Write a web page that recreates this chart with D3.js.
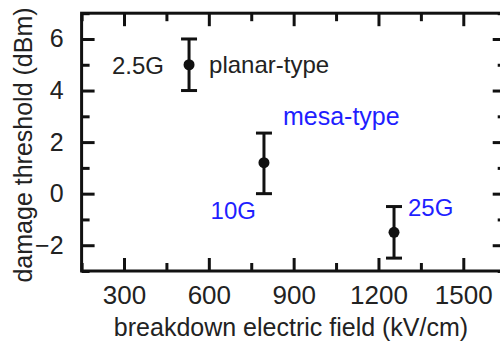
<!DOCTYPE html>
<html>
<head>
<meta charset="utf-8">
<script src="https://cdn.jsdelivr.net/npm/d3@7"></script>
<style>
  body { margin: 0; background: #fff; }
  svg { display: block; font-family: "Liberation Sans", Arial, sans-serif; }
  .tick text { fill: #222; }
</style>
</head>
<body>
<div id="chart"></div>
<script>
// data
var rates = ["2.5G", "10G", "25G"];
var breakdownField = [530, 795, 1255];      // kV/cm
var threshold = [5, 1.2, -1.5];             // dBm
var thresholdLow = [4, 0, -2.5];
var thresholdHigh = [6, 2.35, -0.5];
var xTicks = [300, 600, 900, 1200, 1500];
var yTicks = [-2, 0, 2, 4, 6];

var points = rates.map(function (r, i) {
  return { rate: r, x: breakdownField[i], y: threshold[i], lo: thresholdLow[i], hi: thresholdHigh[i] };
});

// svg setup
var svgWidth = 500, svgHeight = 348;
var svg = d3.select("#chart").append("svg")
  .attr("width", svgWidth)
  .attr("height", svgHeight);

var x = d3.scaleLinear().domain([150, 1650]).range([81.6, 505.7]);
var y = d3.scaleLinear().domain([-3, 7]).range([271, 13.2]);

var xMinor = d3.range(150, 1651, 150).filter(function (v) { return xTicks.indexOf(v) < 0; });
var yMinor = d3.range(-3, 8, 1).filter(function (v) { return yTicks.indexOf(v) < 0; });

function styleAxis(g) {
  g.select(".domain").remove();
  g.selectAll(".tick line").attr("stroke", "#111").attr("stroke-width", 3);
}

// bottom axis (ticks pointing inward)
svg.append("g")
  .attr("transform", "translate(0," + y.range()[0] + ")")
  .call(d3.axisBottom(x).tickValues(xTicks).tickSizeInner(-13).tickPadding(15).tickFormat(d3.format("d")))
  .call(styleAxis)
  .selectAll(".tick text").attr("font-size", 26);
svg.append("g")
  .attr("transform", "translate(0," + y.range()[0] + ")")
  .call(d3.axisBottom(x).tickValues(xMinor).tickSize(-8).tickFormat(""))
  .call(styleAxis);

// top axis
svg.append("g")
  .attr("transform", "translate(0," + y.range()[1] + ")")
  .call(d3.axisTop(x).tickValues(xTicks).tickSize(-13).tickFormat(""))
  .call(styleAxis);
svg.append("g")
  .attr("transform", "translate(0," + y.range()[1] + ")")
  .call(d3.axisTop(x).tickValues(xMinor).tickSize(-8).tickFormat(""))
  .call(styleAxis);

// left axis
svg.append("g")
  .attr("transform", "translate(" + x.range()[0] + ",0)")
  .call(d3.axisLeft(y).tickValues(yTicks).tickSizeInner(-13).tickPadding(18).tickFormat(d3.format("d")))
  .call(styleAxis)
  .selectAll(".tick text").attr("font-size", 25);
svg.append("g")
  .attr("transform", "translate(" + x.range()[0] + ",0)")
  .call(d3.axisLeft(y).tickValues(yMinor).tickSize(-8).tickFormat(""))
  .call(styleAxis);

// right axis
svg.append("g")
  .attr("transform", "translate(" + x.range()[1] + ",0)")
  .call(d3.axisRight(y).tickValues(yTicks).tickSize(-13).tickFormat(""))
  .call(styleAxis);
svg.append("g")
  .attr("transform", "translate(" + x.range()[1] + ",0)")
  .call(d3.axisRight(y).tickValues(yMinor).tickSize(-8).tickFormat(""))
  .call(styleAxis);

// frame
svg.append("rect")
  .attr("x", x.range()[0])
  .attr("y", y.range()[1])
  .attr("width", x.range()[1] - x.range()[0])
  .attr("height", y.range()[0] - y.range()[1])
  .attr("fill", "none")
  .attr("stroke", "#111")
  .attr("stroke-width", 3);

// error bars
var bars = svg.append("g").attr("stroke", "#111").attr("stroke-width", 3);
bars.selectAll(".stem").data(points).enter().append("line")
  .attr("x1", function (d) { return x(d.x); })
  .attr("x2", function (d) { return x(d.x); })
  .attr("y1", function (d) { return y(d.lo); })
  .attr("y2", function (d) { return y(d.hi); });
bars.selectAll(".capHi").data(points).enter().append("line")
  .attr("x1", function (d) { return x(d.x) - 8; })
  .attr("x2", function (d) { return x(d.x) + 8; })
  .attr("y1", function (d) { return y(d.hi); })
  .attr("y2", function (d) { return y(d.hi); });
bars.selectAll(".capLo").data(points).enter().append("line")
  .attr("x1", function (d) { return x(d.x) - 8; })
  .attr("x2", function (d) { return x(d.x) + 8; })
  .attr("y1", function (d) { return y(d.lo); })
  .attr("y2", function (d) { return y(d.lo); });

svg.selectAll(".dot").data(points).enter().append("circle")
  .attr("cx", function (d) { return x(d.x); })
  .attr("cy", function (d) { return y(d.y); })
  .attr("r", 5.5)
  .attr("fill", "#111");

// annotations
var p = points;
svg.append("text")
  .attr("x", x(p[0].x) - 25).attr("y", y(p[0].y) + 9)
  .attr("text-anchor", "end").attr("font-size", 24).attr("fill", "#222")
  .text(p[0].rate);
svg.append("text")
  .attr("x", x(p[0].x) + 20).attr("y", y(p[0].y) + 8)
  .attr("font-size", 24).attr("fill", "#222")
  .text("planar-type");
svg.append("text")
  .attr("x", x(p[1].x) + 19).attr("y", y(p[1].hi) - 8)
  .attr("font-size", 25).attr("fill", "#1f1fff")
  .text("mesa-type");
svg.append("text")
  .attr("x", x(p[1].x) - 8).attr("y", y(p[1].lo) + 25)
  .attr("text-anchor", "end").attr("font-size", 24).attr("fill", "#1f1fff")
  .text(p[1].rate);
svg.append("text")
  .attr("x", x(p[2].x) + 14).attr("y", y(p[2].hi) + 9)
  .attr("font-size", 24).attr("fill", "#1f1fff")
  .text(p[2].rate);

// axis titles
svg.append("text")
  .attr("x", 291)
  .attr("y", 336)
  .attr("text-anchor", "middle")
  .attr("font-size", 25)
  .attr("fill", "#222")
  .text("breakdown electric field (kV/cm)");

svg.append("text")
  .attr("transform", "translate(32,145) rotate(-90)")
  .attr("text-anchor", "middle")
  .attr("font-size", 25)
  .attr("fill", "#222")
  .text("damage threshold (dBm)");
</script>
</body>
</html>
